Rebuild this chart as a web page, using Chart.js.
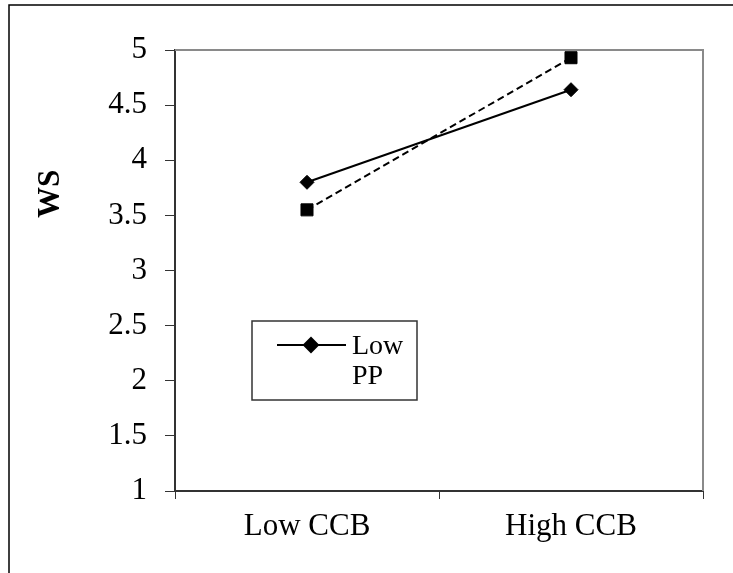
<!DOCTYPE html>
<html lang="en">
  <head>
    <meta charset="UTF-8" />
    <title>WS by CCB and PP</title>
    <script src="https://cdn.jsdelivr.net/npm/chart.js"></script>
    <style>
      body { margin: 0; background: #fff; }
      canvas { display: block; }
    </style>
  </head>
  <body>
    <canvas id="chart" width="733" height="573"></canvas>

    <script>
      // data
      const categories = ["Low CCB", "High CCB"];
      const seriesNames = ["Low PP", "High PP"];
      const lowPP = [3.80, 4.64];
      const highPP = [3.55, 4.93];
      const yTicks = [1, 1.5, 2, 2.5, 3, 3.5, 4, 4.5, 5];
      const yTitle = "WS";

      const serif = "'Liberation Serif', 'Times New Roman', serif";

      // outer frame, plot box, rotated axis title, legend box
      const decor = {
        id: "decor",
        beforeDatasetsDraw(chart) {
          const { ctx, chartArea: a } = chart;
          ctx.save();
          ctx.strokeStyle = "#8a8a8a";
          ctx.lineWidth = 2;
          ctx.beginPath();
          ctx.moveTo(a.left, a.top);
          ctx.lineTo(a.right, a.top);
          ctx.lineTo(a.right, a.bottom);
          ctx.stroke();
          ctx.restore();
        },
        afterDraw(chart) {
          const ctx = chart.ctx;
          ctx.save();
          // outer border (runs off right and bottom)
          ctx.strokeStyle = "#000";
          ctx.lineWidth = 1.5;
          ctx.strokeRect(9, 5, 800, 700);

          // y title
          ctx.translate(51, 194);
          ctx.rotate(-Math.PI / 2);
          ctx.font = "bold 31px " + serif;
          ctx.fillStyle = "#000";
          ctx.textAlign = "center";
          ctx.textBaseline = "middle";
          ctx.fillText(yTitle, 0, 0);
          ctx.setTransform(1, 0, 0, 1, 0, 0);

          // legend (only first series is visible in the box)
          ctx.strokeStyle = "#333";
          ctx.lineWidth = 1.5;
          ctx.strokeRect(252, 321, 165, 79);
          const ds = chart.data.datasets[0];
          ctx.strokeStyle = "#000";
          ctx.lineWidth = 2;
          ctx.beginPath();
          ctx.moveTo(277, 345);
          ctx.lineTo(346, 345);
          ctx.stroke();
          Chart.helpers.drawPoint(ctx, { pointStyle: ds.pointStyle, radius: ds.pointRadius, borderWidth: 1 }, 311, 345);
          ctx.fillStyle = "#000";
          ctx.fill();
          ctx.font = "28px " + serif;
          ctx.textAlign = "left";
          ctx.textBaseline = "alphabetic";
          ds.label.split(" ").forEach((w, i) => ctx.fillText(w, 352, 354 + i * 30));
          ctx.restore();
        },
      };

      new Chart(document.getElementById("chart"), {
        type: "line",
        data: {
          labels: categories,
          datasets: [
            {
              label: seriesNames[0],
              data: lowPP,
              borderColor: "#000",
              backgroundColor: "#000",
              borderWidth: 2,
              pointStyle: "rectRot",
              pointRadius: 7,
              pointBorderWidth: 1,
            },
            {
              label: seriesNames[1],
              data: highPP,
              borderColor: "#000",
              backgroundColor: "#000",
              borderWidth: 2,
              borderDash: [7, 4],
              pointStyle: "rect",
              pointRadius: 8.5,
              pointBorderWidth: 1,
            },
          ],
        },
        options: {
          responsive: false,
          animation: false,
          layout: { padding: { top: 50, right: 30, left: 0, bottom: 0 } },
          plugins: { legend: { display: false }, tooltip: { enabled: false } },
          scales: {
            x: {
              offset: true,
              grid: { drawOnChartArea: false, tickLength: 8, color: "#333", offset: true },
              border: { color: "#333", width: 2 },
              ticks: { color: "#000", font: { family: serif, size: 31 }, padding: 9, maxRotation: 0 },
              afterFit(scale) { scale.height = 82; },
            },
            y: {
              min: 1,
              max: 5,
              afterBuildTicks(scale) { scale.ticks = yTicks.map((v) => ({ value: v })); },
              grid: { drawOnChartArea: false, tickLength: 10, color: "#333" },
              border: { color: "#333", width: 2 },
              ticks: {
                color: "#000",
                font: { family: serif, size: 31 },
                padding: 18,
                callback: (v) => String(v),
              },
              afterFit(scale) { scale.width = 175; },
            },
          },
        },
        plugins: [decor],
      });
    </script>
  </body>
</html>
